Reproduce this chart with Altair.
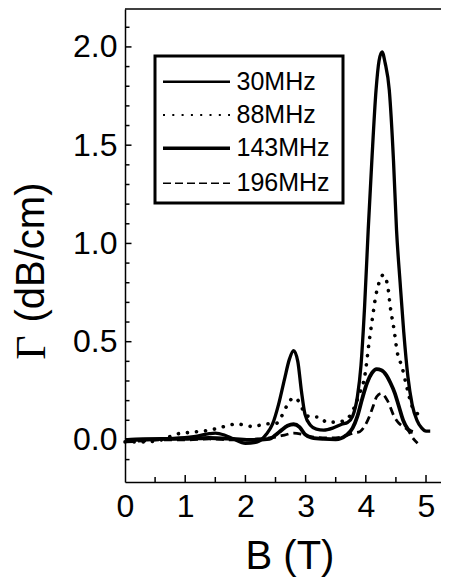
import altair as alt
import pandas as pd

# ---- data ----
series_names = ["30MHz", "88MHz", "143MHz", "196MHz"]

B30 = [0.0, 0.3, 0.6, 0.9, 1.2, 1.4, 1.5, 1.65, 1.8, 2.0, 2.2, 2.35, 2.45, 2.55, 2.65, 2.73, 2.8,
       2.87, 2.93, 2.99, 3.08, 3.18, 3.3, 3.45, 3.6, 3.7, 3.78, 3.86, 3.92, 3.98, 4.04, 4.1, 4.17,
       4.22, 4.27, 4.32, 4.39, 4.46, 4.51, 4.57, 4.63, 4.7, 4.77, 4.85, 4.93, 5.0, 5.07]
G30 = [0.0, 0.005, 0.005, 0.01, 0.02, 0.032, 0.035, 0.025, 0.005, -0.017, -0.01, 0.03, 0.08, 0.18,
       0.31, 0.41, 0.455, 0.40, 0.25, 0.13, 0.075, 0.055, 0.05, 0.06, 0.08, 0.09, 0.12, 0.22, 0.38,
       0.68, 1.07, 1.42, 1.78, 1.93, 1.975, 1.92, 1.78, 1.42, 1.07, 0.80, 0.55, 0.32, 0.18, 0.10,
       0.06, 0.045, 0.045]

B88 = [0.0, 0.3, 0.6, 0.86, 1.13, 1.41, 1.58, 1.86, 2.13, 2.3, 2.52, 2.6, 2.7, 2.8, 2.9, 2.96,
       3.05, 3.24, 3.35, 3.57, 3.7, 3.79, 3.9, 3.98, 4.06, 4.11, 4.17, 4.22, 4.29, 4.36, 4.41,
       4.47, 4.52, 4.6, 4.68, 4.77, 4.83, 4.9]
G88 = [-0.01, -0.01, 0.0, 0.03, 0.04, 0.05, 0.063, 0.081, 0.068, 0.08, 0.085, 0.12, 0.18, 0.215,
       0.19, 0.15, 0.12, 0.115, 0.09, 0.093, 0.11, 0.153, 0.24, 0.32, 0.51, 0.62, 0.74, 0.80,
       0.84, 0.79, 0.67, 0.56, 0.45, 0.373, 0.27, 0.17, 0.14, 0.13]

B143 = [0.0, 0.3, 0.6, 1.0, 1.4, 1.8, 2.1, 2.4, 2.5, 2.6, 2.7, 2.8, 2.9, 2.99, 3.1, 3.3, 3.5,
        3.68, 3.78, 3.86, 3.94, 4.02, 4.1, 4.18, 4.26, 4.34, 4.41, 4.48, 4.55, 4.62, 4.7, 4.78]
G143 = [0.0, 0.0, 0.005, 0.005, 0.01, 0.005, 0.0, 0.005, 0.025, 0.05, 0.072, 0.08, 0.065, 0.028,
        0.012, 0.005, 0.003, 0.025, 0.06, 0.12, 0.21, 0.29, 0.34, 0.36, 0.355, 0.33, 0.29, 0.24,
        0.17, 0.10, 0.055, 0.04]

B196 = [0.0, 0.3, 0.6, 1.0, 1.4, 1.8, 2.2, 2.5, 2.65, 2.8, 2.95, 3.1, 3.4, 3.6, 3.79, 3.9, 3.98,
        4.06, 4.12, 4.18, 4.26, 4.36, 4.47, 4.55, 4.62, 4.7, 4.78, 4.86]
G196 = [-0.01, -0.005, 0.0, 0.0, 0.005, 0.0, 0.005, 0.015, 0.025, 0.035, 0.028, 0.015, 0.01,
        0.015, 0.035, 0.042, 0.07, 0.12, 0.17, 0.22, 0.237, 0.20, 0.12, 0.085, 0.068, 0.05, 0.01,
        -0.017]

x_labels = [0, 1, 2, 3, 4, 5]
y_labels = [0.0, 0.5, 1.0, 1.5, 2.0]
x_major = [1, 2, 3, 4, 5]
x_minor = [0.5, 1.5, 2.5, 3.5, 4.5]
y_major = [0.0, 0.5, 1.0, 1.5, 2.0]
y_minor = [-0.1, 0.1, 0.2, 0.3, 0.4, 0.6, 0.7, 0.8, 0.9, 1.1, 1.2, 1.3, 1.4, 1.6, 1.7, 1.8,
           1.9, 2.1]

# ---- layout ----
W, H = 316, 473
FONT = "Liberation Sans"
xs = alt.Scale(domain=[0, 5.249], nice=False, zero=False)
ys = alt.Scale(domain=[-0.214, 2.193], nice=False, zero=False)
X_AX = alt.Axis(values=x_labels, format="d", title=None, ticks=False, tickSize=0, grid=False,
                labelFlush=False, labelPadding=9, labelFontSize=32, labelFont=FONT,
                labelColor="black", domainColor="black", domainWidth=1.5, labelOverlap=False)
Y_AX = alt.Axis(values=y_labels, format=".1f", title=None, ticks=False, tickSize=0, grid=False,
                labelFlush=False, labelPadding=8, labelFontSize=32, labelFont=FONT,
                labelColor="black", domainColor="black", domainWidth=1.5, labelOverlap=False)

one = pd.DataFrame({"k": [0]})


def curve(bs, gs, **style):
    df = pd.DataFrame({"B": bs, "G": gs})
    return alt.Chart(df).mark_line(interpolate="monotone", color="black", **style).encode(
        x=alt.X("B:Q", scale=xs, axis=X_AX), y=alt.Y("G:Q", scale=ys, axis=Y_AX))


c30 = curve(B30, G30, strokeWidth=3.3)
c88 = curve(B88, G88, strokeWidth=3.6, strokeDash=[0.1, 9], strokeCap="round")
c143 = curve(B143, G143, strokeWidth=3.8)
c196 = curve(B196, G196, strokeWidth=2.8, strokeDash=[8, 5])


def xticks(vals, length):
    return alt.Chart(pd.DataFrame({"B": vals})).mark_rule(color="black", strokeWidth=1.5).encode(
        x=alt.X("B:Q", scale=xs, axis=X_AX), y=alt.value(H), y2=alt.value(H - length))


def yticks(vals, length):
    return alt.Chart(pd.DataFrame({"G": vals})).mark_rule(color="black", strokeWidth=1.5).encode(
        y=alt.Y("G:Q", scale=ys, axis=Y_AX), x=alt.value(0), x2=alt.value(length))


top_line = alt.Chart(one).mark_rule(color="black", strokeWidth=1.5).encode(
    x=alt.value(0), x2=alt.value(W), y=alt.value(0))

# legend
box = alt.Chart(one).mark_rect(fill="white", stroke="black", strokeWidth=3).encode(
    x=alt.value(30), x2=alt.value(218), y=alt.value(47), y2=alt.value(194))

row_y = [72.7, 106, 139.3, 174.3]
leg_styles = [
    dict(strokeWidth=2.4),
    dict(strokeWidth=2, strokeDash=[2, 7.3]),
    dict(strokeWidth=3.4),
    dict(strokeWidth=1.6, strokeDash=[8, 4]),
]
leg_layers = []
for name, yy, st in zip(series_names, row_y, leg_styles):
    leg_layers.append(alt.Chart(one).mark_rule(color="black", **st).encode(
        x=alt.value(38), x2=alt.value(105), y=alt.value(yy)))
    leg_layers.append(alt.Chart(one).mark_text(
        text=name, font=FONT, fontSize=25, align="left", baseline="middle", color="black").encode(
        x=alt.value(111.5), y=alt.value(yy)))

x_title = alt.Chart(one).mark_text(
    text="B (T)", font=FONT, fontSize=40, align="center", baseline="alphabetic", color="black"
).encode(x=alt.value(165), y=alt.value(560))
y_title1 = alt.Chart(one).mark_text(
    text="(dB/cm)", font=FONT, fontSize=40, angle=270, align="center", baseline="middle",
    color="black").encode(x=alt.value(-93), y=alt.value(243.5))
y_title2 = alt.Chart(one).mark_text(
    text="Γ", font="Liberation Serif", fontSize=42, angle=270, align="center", baseline="middle",
    color="black").encode(x=alt.value(-93), y=alt.value(338.5))

chart = alt.layer(
    c30, c88, c143, c196,
    xticks(x_major, 7), xticks(x_minor, 5), yticks(y_major, 6.5), yticks(y_minor, 4.5),
    top_line, box, *leg_layers, x_title, y_title1, y_title2
).properties(
    width=W, height=H, autosize="none",
    padding={"left": 117, "top": 1, "right": 0, "bottom": 96},
).configure_view(strokeWidth=0)

chart.save("out.html", embed_options={"renderer": "svg", "actions": False})
